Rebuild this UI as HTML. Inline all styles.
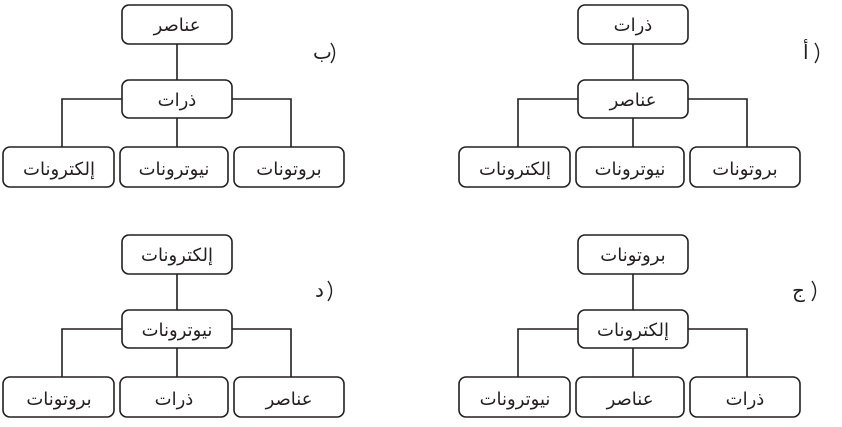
<!DOCTYPE html>
<html><head><meta charset="utf-8"><style>
html,body{margin:0;padding:0;background:#fff;}
svg text{font-family:"DejaVu Sans","Noto Sans CJK SC",sans-serif;font-size:18px;fill:#231f20;}
</style></head><body>
<svg width="842" height="422" viewBox="0 0 842 422" xmlns="http://www.w3.org/2000/svg">
<defs>
<g id="frame" fill="none" stroke="#231f20" stroke-width="1.6">
<rect x="0" y="0" width="110" height="39" rx="7"/>
<rect x="0" y="75" width="110" height="38" rx="7"/>
<rect x="-119" y="142" width="111" height="40" rx="7"/>
<rect x="-2" y="142" width="108" height="40" rx="7"/>
<rect x="112" y="142" width="110" height="40" rx="7"/>
<path d="M55 39V75M0 94H-60V142M110 94H169V142M55 113V142"/>
</g>
<path id="par" d="M0 0Q7 10 0 20" fill="none" stroke="#231f20" stroke-width="1.4"/>
</defs>
<g transform="translate(122,5)">
<use href="#frame"/>
<g text-anchor="middle">
<text x="55" y="26" direction="rtl">عناصر</text>
<text x="55" y="101" direction="rtl">ذرات</text>
<text x="-63" y="170" direction="rtl">إلكترونات</text>
<text x="52" y="170" direction="rtl">نيوترونات</text>
<text x="167" y="170" direction="rtl">بروتونات</text>
</g>
<text x="191" y="54" style="font-size:20px">ب</text>
<use href="#par" x="209" y="38"/>
</g>
<g transform="translate(578,5)">
<use href="#frame"/>
<g text-anchor="middle">
<text x="55" y="26" direction="rtl">ذرات</text>
<text x="55" y="101" direction="rtl">عناصر</text>
<text x="-63" y="170" direction="rtl">إلكترونات</text>
<text x="52" y="170" direction="rtl">نيوترونات</text>
<text x="167" y="170" direction="rtl">بروتونات</text>
</g>
<text x="225" y="54" style="font-size:20px">أ</text>
<use href="#par" x="237" y="38"/>
</g>
<g transform="translate(122,235)">
<use href="#frame"/>
<g text-anchor="middle">
<text x="55" y="26" direction="rtl">إلكترونات</text>
<text x="55" y="101" direction="rtl">نيوترونات</text>
<text x="-63" y="170" direction="rtl">بروتونات</text>
<text x="52" y="170" direction="rtl">ذرات</text>
<text x="167" y="170" direction="rtl">عناصر</text>
</g>
<text x="193" y="62" style="font-size:20px">د</text>
<use href="#par" x="206" y="46"/>
</g>
<g transform="translate(578,235)">
<use href="#frame"/>
<g text-anchor="middle">
<text x="55" y="26" direction="rtl">بروتونات</text>
<text x="55" y="101" direction="rtl">إلكترونات</text>
<text x="-63" y="170" direction="rtl">نيوترونات</text>
<text x="52" y="170" direction="rtl">عناصر</text>
<text x="167" y="170" direction="rtl">ذرات</text>
</g>
<text x="214" y="62" style="font-size:20px">ج</text>
<use href="#par" x="234" y="46"/>
</g>
</svg>
</body></html>
